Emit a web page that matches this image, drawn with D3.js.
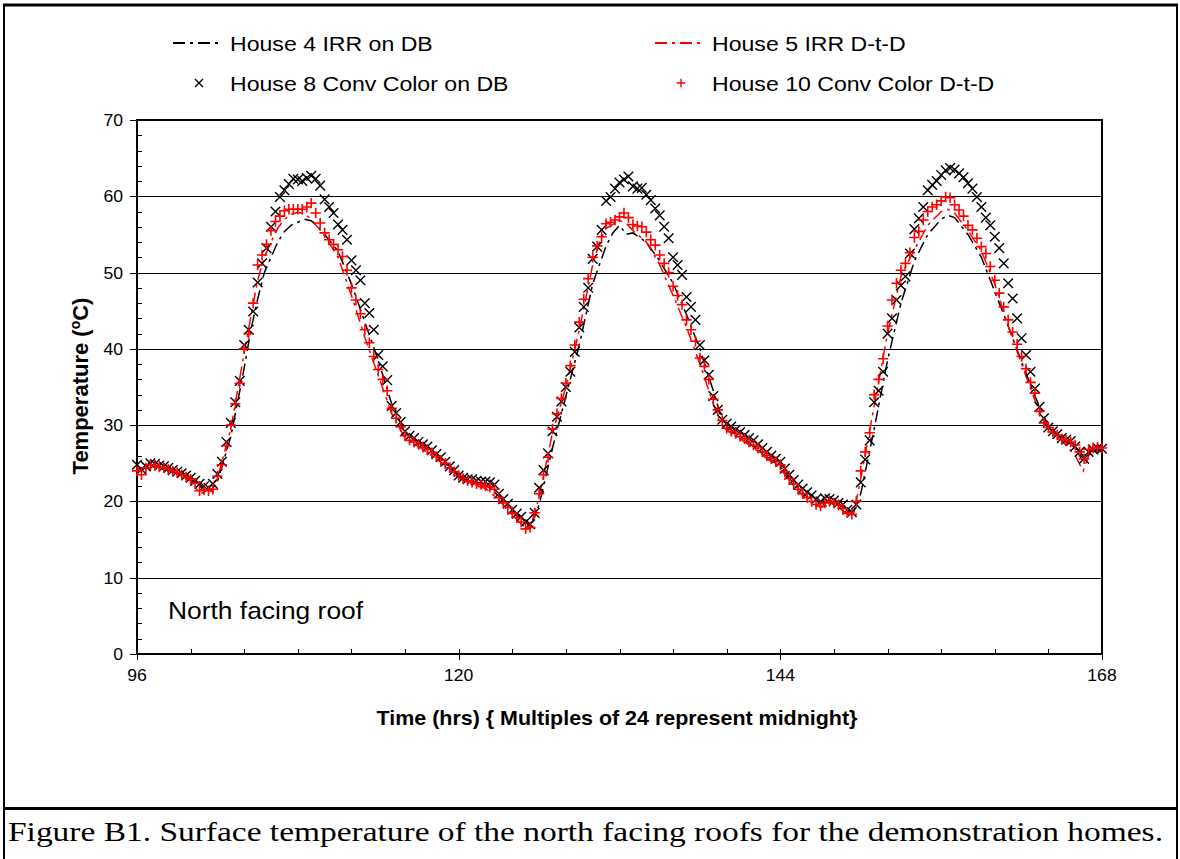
<!DOCTYPE html>
<html>
<head>
<meta charset="utf-8">
<script src="https://cdn.jsdelivr.net/npm/d3@7"></script>
<style>
  html, body { margin: 0; padding: 0; background: #fff; }
  svg { display: block; }
  .sans { font-family: "Liberation Sans", Arial, sans-serif; }
  .serif { font-family: "Liberation Serif", "Times New Roman", serif; }
</style>
</head>
<body>
<div id="chart"></div>
<script>
// ---- Data ----
var X_TICKS = [96, 120, 144, 168];
var Y_TICKS = [0, 10, 20, 30, 40, 50, 60, 70];

// House 8 / House 10 logged every 20 min from hour 96
var SAMPLE_START = 96;
var SAMPLE_STEP = 1 / 3;

var house8Temps = [
  24.8, 24.2, 24.6, 25.0, 24.9, 24.7, 24.6, 24.4, 24.1, 23.9, 23.7, 23.4,
  23.1, 22.7, 22.3, 22.0, 21.8, 22.3, 23.6, 25.2, 27.8, 30.3, 33.0, 35.8,
  40.5, 42.5, 44.9, 48.7, 51.2, 53.2, 56.0, 58.0, 59.9, 60.8, 61.6, 62.3,
  62.2, 62.0, 62.4, 62.7, 62.3, 61.4, 59.6, 58.6, 57.8, 56.3, 55.6, 54.3,
  51.6, 50.3, 49.0, 46.0, 44.7, 42.5, 39.2, 37.7, 35.9, 32.5, 31.6, 30.4,
  29.2, 28.6, 28.3, 27.8, 27.5, 27.2, 26.7, 26.2, 25.8, 25.2, 24.6, 24.1,
  23.4, 23.1, 22.9, 22.9, 22.7, 22.6, 22.6, 22.5, 22.2, 21.0, 20.3, 19.7,
  18.9, 18.4, 18.0, 17.3, 17.0, 18.5, 21.8, 24.1, 26.3, 29.2, 31.1, 33.1,
  35.0, 37.0, 39.6, 42.8, 45.5, 48.0, 51.8, 53.4, 55.6, 59.4, 59.9, 61.0,
  61.8, 62.2, 62.6, 61.3, 61.0, 61.1, 60.2, 59.5, 58.4, 57.5, 56.0, 54.5,
  52.0, 51.0, 49.7, 46.8, 45.5, 43.8, 40.5, 38.5, 36.6, 33.8, 32.0, 30.7,
  30.2, 29.8, 29.4, 29.1, 28.7, 28.3, 28.0, 27.5, 27.0, 26.5, 26.0, 25.6,
  25.2, 24.3, 23.5, 22.8, 22.2, 21.7, 21.2, 20.8, 20.3, 20.0, 20.4, 20.3,
  20.1, 19.8, 19.6, 18.9, 18.6, 19.6, 22.5, 25.5, 28.0, 33.0, 34.5, 37.0,
  42.0, 44.0, 46.4, 48.3, 49.5, 52.5, 55.7, 57.1, 58.6, 60.8, 61.5, 62.0,
  62.8, 63.4, 63.7, 63.5, 63.0, 62.5, 61.7, 61.0, 59.9, 58.6, 57.2, 56.2,
  54.7, 53.2, 51.2, 48.6, 46.6, 44.0, 41.4, 39.2, 37.0, 34.8, 32.4, 30.9,
  29.7, 29.2, 28.8, 28.3, 28.1, 27.9, 27.2, 26.5, 25.6, 26.5, 26.8, 27.0,
  26.9
];

var house10Temps = [
  24.0, 23.5, 24.4, 24.8, 24.7, 24.5, 24.4, 24.2, 24.0, 23.8, 23.5, 23.2,
  22.9, 22.4, 21.4, 21.5, 21.4, 21.6, 23.3, 24.8, 27.3, 30.0, 32.8, 35.5,
  40.0, 42.0, 46.0, 51.0, 52.3, 53.7, 55.5, 56.7, 57.4, 58.1, 58.3, 58.3,
  58.3, 58.3, 58.6, 59.1, 57.8, 56.5, 55.2, 54.3, 53.7, 53.0, 52.1, 50.3,
  48.0, 46.4, 44.6, 42.5, 40.8, 39.0, 37.3, 36.0, 34.5, 32.2, 30.9, 29.8,
  28.6, 28.0, 27.8, 27.5, 27.1, 26.8, 26.4, 25.9, 25.4, 25.0, 24.4, 23.9,
  23.4, 23.0, 22.7, 22.5, 22.3, 22.2, 22.0, 21.9, 21.6, 20.5, 19.8, 19.2,
  18.5, 17.9, 17.3, 16.4, 16.6, 18.5, 21.0, 23.5, 25.8, 29.5, 31.5, 33.5,
  35.5, 37.8, 40.5, 43.5, 46.5, 49.2, 52.0, 53.5, 54.7, 56.4, 56.6, 56.9,
  57.3, 57.8, 57.2, 56.3, 56.1, 56.0, 55.3, 54.3, 53.6, 52.3, 51.2, 50.0,
  48.2, 47.0, 45.8, 43.8, 42.5, 41.0, 38.8, 37.7, 36.0, 33.4, 32.0, 30.6,
  29.6, 29.2, 28.9, 28.5, 28.2, 27.8, 27.4, 27.0, 26.5, 26.0, 25.6, 25.2,
  24.8, 23.9, 23.0, 22.3, 21.6, 21.0, 20.5, 20.0, 19.6, 19.4, 19.8, 20.0,
  19.8, 19.5, 19.1, 18.5, 18.3, 20.0, 24.0, 26.5, 29.0, 34.0, 36.0, 38.7,
  43.0, 46.4, 48.6, 50.3, 51.2, 52.6, 54.6, 55.4, 56.9, 58.0, 58.6, 58.9,
  59.4, 59.9, 59.8, 58.9, 58.2, 57.4, 56.2, 55.6, 54.5, 53.4, 52.5, 50.8,
  49.0, 47.3, 45.5, 43.8, 42.2, 40.6, 39.0, 37.4, 35.6, 34.2, 31.8, 30.3,
  29.7, 29.1, 28.7, 28.2, 28.0, 27.8, 27.4, 26.5, 25.6, 26.8, 27.0, 27.1,
  27.0
];

// House 4 / House 5 dash-dot curves
var house4Times = [96, 97, 98, 99, 100, 101, 101.5, 102, 103, 104, 104.5, 105, 105.5, 106,
  106.5, 107, 107.5, 108, 108.5, 109, 109.5, 110, 111, 112, 113, 114, 115, 116, 117, 118,
  119, 120, 121, 122, 123, 124, 125, 125.5, 126, 127, 128, 129, 130, 131, 131.5, 132,
  132.5, 133, 134, 135, 136, 137, 138, 139, 139.5, 140, 141, 142, 143, 144, 145, 146,
  147, 148, 149, 149.5, 150, 151, 152, 153, 154, 155, 156, 156.5, 157, 158, 159, 160,
  161, 162, 163, 164, 165, 166, 166.5, 167, 168];
var house4Temps = [24.2, 24.6, 24.2, 23.6, 22.8, 21.6, 21.4, 22.6, 28.5, 37.5, 42.5, 46.5,
  50.0, 52.0, 54.0, 55.4, 56.2, 56.6, 57.0, 56.8, 56.0, 55.0, 52.8, 48.5, 43.5, 38.5,
  32.8, 29.0, 27.6, 26.4, 25.0, 23.3, 22.6, 22.2, 20.7, 18.7, 17.0, 17.3, 19.5, 27.0,
  33.8, 40.5, 48.5, 53.5, 55.2, 56.2, 55.0, 55.2, 54.0, 51.5, 48.6, 44.5, 40.0, 34.5,
  31.5, 29.8, 28.5, 27.2, 25.8, 24.6, 22.3, 20.6, 19.8, 20.0, 18.8, 18.8, 21.0, 29.5,
  38.5, 46.0, 51.5, 55.0, 57.0, 57.5, 57.2, 55.0, 52.0, 47.5, 43.0, 38.3, 33.8, 29.8,
  28.3, 27.0, 25.5, 26.3, 26.8];

var house5Times = [96, 97, 98, 99, 100, 100.7, 101, 102, 103, 104, 105, 105.5, 106, 106.5,
  107, 107.5, 108, 108.5, 109, 110, 111, 112, 113, 114, 115, 116, 117, 118, 119, 120,
  121, 122, 123, 124, 125, 125.5, 126, 127, 128, 129, 130, 130.5, 131, 132, 132.5, 133,
  134, 135, 136, 137, 138, 139, 139.5, 140, 141, 142, 143, 144, 145, 146, 147, 148, 149,
  149.5, 150, 151, 152, 153, 154, 155, 156, 156.5, 157, 158, 159, 160, 161, 162, 163,
  164, 165, 166, 166.6, 167, 167.5, 168];
var house5Temps = [24.0, 24.6, 24.3, 23.6, 22.8, 21.0, 21.2, 23.0, 29.5, 39.5, 49.0, 52.0,
  54.0, 55.8, 57.0, 57.6, 57.9, 57.7, 57.0, 54.8, 52.0, 47.0, 41.5, 36.5, 31.5, 28.3,
  27.2, 26.0, 24.7, 23.1, 22.2, 21.7, 20.2, 18.2, 16.5, 17.5, 20.5, 29.0, 35.0, 42.5,
  51.0, 54.0, 55.8, 56.8, 56.5, 55.5, 54.0, 51.0, 47.0, 42.8, 38.0, 32.8, 30.3, 29.3,
  28.2, 27.0, 25.6, 24.3, 22.0, 20.2, 19.2, 19.7, 18.3, 18.6, 23.0, 32.5, 42.0, 49.5,
  53.0, 56.2, 58.0, 58.3, 57.8, 55.5, 52.8, 48.5, 43.0, 38.0, 33.2, 29.5, 28.0, 26.0,
  24.0, 26.0, 26.8, 26.8];

var LEGEND_LABELS = ['House 4 IRR on DB', 'House 5 IRR D-t-D',
                     'House 8 Conv Color on DB', 'House 10 Conv Color D-t-D'];

// ---- Layout ----
var W = 1180, H = 859;
var PLOT = { left: 137, right: 1102, top: 120, bottom: 654 };
var SX = 1.1;              // the source figure is stretched horizontally
var DASH = '12,5,3,5';
var RED = '#ff0000';

function zip(ts, vs) {
  return ts.map(function (t, i) { return { t: t, v: vs[i] }; });
}
function sampled(vs) {
  return vs.map(function (v, i) { return { t: SAMPLE_START + i * SAMPLE_STEP, v: v }; });
}

// stretched text helper
function label(g, x, y, str, cls, size, anchor, weight) {
  return g.append('text')
    .attr('class', cls)
    .attr('transform', 'translate(' + x + ',' + y + ') scale(' + SX + ',1)')
    .attr('font-size', size)
    .attr('font-weight', weight || 'normal')
    .attr('text-anchor', anchor || 'start')
    .attr('fill', '#000')
    .text(str);
}

function crossPath(s) {
  return 'M' + (-s) + ',' + (-s) + 'L' + s + ',' + s + 'M' + (-s) + ',' + s + 'L' + s + ',' + (-s);
}
function plusPath(s) {
  return 'M' + (-s) + ',0L' + s + ',0M0,' + (-s) + 'L0,' + s;
}

var svg = d3.select('#chart').append('svg')
  .attr('width', W).attr('height', H);

svg.append('rect').attr('width', W).attr('height', H).attr('fill', '#fff');

var x = d3.scaleLinear().domain([96, 168]).range([PLOT.left, PLOT.right]);
var y = d3.scaleLinear().domain([0, 70]).range([PLOT.bottom, PLOT.top]);

// ---- Gridlines ----
svg.append('g').selectAll('line')
  .data(Y_TICKS.filter(function (d) { return d > 0 && d < 70; }))
  .enter().append('line')
  .attr('x1', PLOT.left).attr('x2', PLOT.right)
  .attr('y1', function (d) { return Math.round(y(d)) + 0.5; })
  .attr('y2', function (d) { return Math.round(y(d)) + 0.5; })
  .attr('stroke', '#000').attr('stroke-width', 1);

// ---- Ticks ----
var axes = svg.append('g').attr('stroke', '#000');
axes.selectAll('.ymin')
  .data(d3.range(0, 70.1, 2))
  .enter().append('line')
  .attr('x1', PLOT.left).attr('x2', PLOT.left + 5)
  .attr('y1', function (d) { return Math.round(y(d)) + 0.5; })
  .attr('y2', function (d) { return Math.round(y(d)) + 0.5; })
  .attr('stroke-width', 1);
axes.selectAll('.ymaj')
  .data(Y_TICKS)
  .enter().append('line')
  .attr('x1', PLOT.left - 7).attr('x2', PLOT.left)
  .attr('y1', function (d) { return Math.round(y(d)) + 0.5; })
  .attr('y2', function (d) { return Math.round(y(d)) + 0.5; })
  .attr('stroke-width', 1);
axes.selectAll('.xmin')
  .data(d3.range(96, 168.1, 4))
  .enter().append('line')
  .attr('x1', function (d) { return Math.round(x(d)) + 0.5; })
  .attr('x2', function (d) { return Math.round(x(d)) + 0.5; })
  .attr('y1', PLOT.bottom - 5).attr('y2', PLOT.bottom)
  .attr('stroke-width', 1);
axes.selectAll('.xmaj')
  .data(X_TICKS)
  .enter().append('line')
  .attr('x1', function (d) { return Math.round(x(d)) + 0.5; })
  .attr('x2', function (d) { return Math.round(x(d)) + 0.5; })
  .attr('y1', PLOT.bottom - 5).attr('y2', PLOT.bottom + 6)
  .attr('stroke-width', 1);

// ---- Plot frame ----
svg.append('rect')
  .attr('x', PLOT.left).attr('y', PLOT.top)
  .attr('width', PLOT.right - PLOT.left).attr('height', PLOT.bottom - PLOT.top)
  .attr('fill', 'none').attr('stroke', '#000').attr('stroke-width', 2);

// ---- Tick labels ----
var tickG = svg.append('g');
Y_TICKS.forEach(function (d) {
  label(tickG, PLOT.left - 14, y(d) + 6, String(d), 'sans', 16, 'end');
});
X_TICKS.forEach(function (d) {
  label(tickG, x(d), 681, String(d), 'sans', 16, 'middle');
});

// ---- Axis titles ----
label(svg, 617, 725, 'Time (hrs) { Multiples of 24 represent midnight}', 'sans', 19.5, 'middle', 'bold');

var yTitle = svg.append('text')
  .attr('class', 'sans')
  .attr('transform', 'translate(88,386) rotate(-90)')
  .attr('font-size', 22).attr('font-weight', 'bold')
  .attr('text-anchor', 'middle');
yTitle.append('tspan').text('Temperature (');
yTitle.append('tspan').attr('font-size', 14).attr('dy', -8).text('o');
yTitle.append('tspan').attr('dy', 8).text('C)');

label(svg, 168, 619, 'North facing roof', 'sans', 24);

// ---- Series ----
svg.append('clipPath').attr('id', 'plotclip')
  .append('rect')
  .attr('x', PLOT.left - 6).attr('y', PLOT.top - 6)
  .attr('width', PLOT.right - PLOT.left + 12).attr('height', PLOT.bottom - PLOT.top + 12);

var lineGen = d3.line()
  .x(function (d) { return x(d.t); })
  .y(function (d) { return y(d.v); });

var series = svg.append('g').attr('clip-path', 'url(#plotclip)');

series.append('path')
  .datum(zip(house4Times, house4Temps))
  .attr('d', lineGen)
  .attr('fill', 'none').attr('stroke', '#000')
  .attr('stroke-width', 1.5).attr('stroke-dasharray', DASH);

series.append('path')
  .datum(zip(house5Times, house5Temps))
  .attr('d', lineGen)
  .attr('fill', 'none').attr('stroke', RED)
  .attr('stroke-width', 1.5).attr('stroke-dasharray', DASH);

series.append('g').selectAll('path')
  .data(sampled(house8Temps))
  .enter().append('path')
  .attr('transform', function (d) { return 'translate(' + x(d.t) + ',' + y(d.v) + ')'; })
  .attr('d', crossPath(4.8))
  .attr('fill', 'none').attr('stroke', '#000').attr('stroke-width', 1.4);

series.append('g').selectAll('path')
  .data(sampled(house10Temps))
  .enter().append('path')
  .attr('transform', function (d) { return 'translate(' + x(d.t) + ',' + y(d.v) + ')'; })
  .attr('d', plusPath(5.2))
  .attr('fill', 'none').attr('stroke', RED).attr('stroke-width', 1.6);

// ---- Legend ----
var legend = svg.append('g');
var LEG = [
  { x: 173, y: 43, type: 'line', color: '#000' },
  { x: 655, y: 43, type: 'line', color: RED },
  { x: 173, y: 83, type: 'cross', color: '#000' },
  { x: 655, y: 83, type: 'plus', color: RED }
];
LEG.forEach(function (d, i) {
  if (d.type === 'line') {
    legend.append('line')
      .attr('x1', d.x).attr('x2', d.x + 50)
      .attr('y1', d.y).attr('y2', d.y)
      .attr('stroke', d.color).attr('stroke-width', 2)
      .attr('stroke-dasharray', DASH);
  } else {
    legend.append('path')
      .attr('transform', 'translate(' + (d.x + 26) + ',' + d.y + ')')
      .attr('d', d.type === 'cross' ? crossPath(4) : plusPath(4.3))
      .attr('fill', 'none').attr('stroke', d.color).attr('stroke-width', 1.4);
  }
  label(legend, d.x + 57, d.y + 8, LEGEND_LABELS[i], 'sans', 21);
});

// ---- Outer frame and caption ----
var frame = svg.append('g').attr('stroke', '#000').attr('fill', 'none');
frame.append('line').attr('x1', 3).attr('x2', 1178).attr('y1', 5).attr('y2', 5).attr('stroke-width', 3);
frame.append('line').attr('x1', 4).attr('x2', 4).attr('y1', 4).attr('y2', H).attr('stroke-width', 2);
frame.append('line').attr('x1', 1177).attr('x2', 1177).attr('y1', 4).attr('y2', H).attr('stroke-width', 2);
frame.append('line').attr('x1', 3).attr('x2', 1178).attr('y1', 808.5).attr('y2', 808.5).attr('stroke-width', 3);

svg.append('text')
  .attr('class', 'serif')
  .attr('x', 8).attr('y', 841)
  .attr('font-size', 28)
  .attr('textLength', 1155)
  .attr('lengthAdjust', 'spacingAndGlyphs')
  .text('Figure B1. Surface temperature of the north facing roofs for the demonstration homes.');
</script>
</body>
</html>
